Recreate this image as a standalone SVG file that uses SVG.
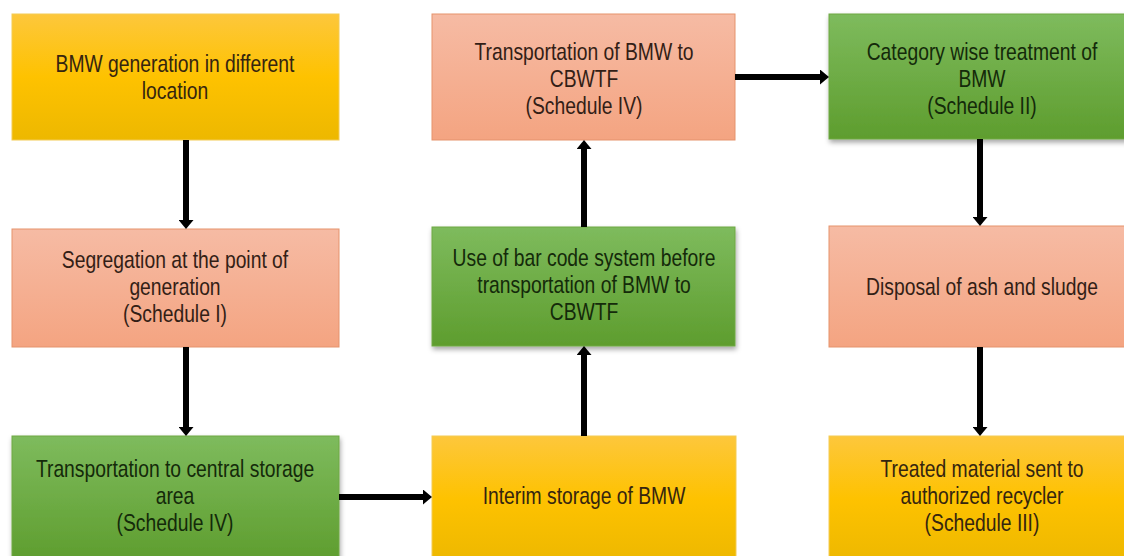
<svg xmlns="http://www.w3.org/2000/svg" width="1124" height="556" viewBox="0 0 1124 556">
<defs>
<linearGradient id="gy" x1="0" y1="0" x2="0" y2="1"><stop offset="0" stop-color="#FDC73C"/><stop offset="0.5" stop-color="#FEC200"/><stop offset="1" stop-color="#EDB800"/></linearGradient>
<linearGradient id="gs" x1="0" y1="0" x2="0" y2="1"><stop offset="0" stop-color="#F6BBA4"/><stop offset="1" stop-color="#F4A481"/></linearGradient>
<linearGradient id="gg" x1="0" y1="0" x2="0" y2="1"><stop offset="0" stop-color="#7EBB5D"/><stop offset="1" stop-color="#5E9D2E"/></linearGradient>
<filter id="sh" x="-5%" y="-5%" width="115%" height="125%"><feDropShadow dx="1" dy="3" stdDeviation="2.5" flood-color="#000" flood-opacity="0.35"/></filter>
<marker id="ah" markerUnits="userSpaceOnUse" markerWidth="10" markerHeight="15" viewBox="0 0 10 15" refX="1" refY="7.5" orient="auto"><path d="M0,0 L9,7.5 L0,15 Z" fill="#000"/></marker>
</defs>
<style>
.y{fill:url(#gy);stroke:#F3CB55;stroke-width:1}
.s{fill:url(#gs);stroke:#E5936C;stroke-width:1}
.g{fill:url(#gg);stroke:#6EA845;stroke-width:1;filter:url(#sh)}
text{font-family:"Liberation Sans",Arial,sans-serif;font-size:24px;text-anchor:middle}
.ty{fill:#35250F}
.ts{fill:#331E16}
.tg{fill:#142A0A}
.c{stroke:#000;stroke-width:6;fill:none;marker-end:url(#ah)}
</style>
<rect width="1124" height="556" fill="#fff"/>
<g id="n1"><rect class="y" x="12" y="14" width="327" height="126"/><g transform="translate(175,0) scale(0.805,1)"><text class="ty" x="0" y="72">BMW generation in different</text><text class="ty" x="0" y="99">location</text></g></g>
<g id="n2"><rect class="s" x="12" y="229" width="327" height="118"/><g transform="translate(175,0) scale(0.805,1)"><text class="ts" x="0" y="268">Segregation at the point of</text><text class="ts" x="0" y="295">generation</text><text class="ts" x="0" y="322">(Schedule I)</text></g></g>
<g id="n3"><rect class="g" x="12" y="436" width="327" height="126"/><g transform="translate(175,0) scale(0.805,1)"><text class="tg" x="0" y="477">Transportation to central storage</text><text class="tg" x="0" y="504">area</text><text class="tg" x="0" y="531">(Schedule IV)</text></g></g>
<g id="n4"><rect class="y" x="432" y="436" width="304" height="126"/><g transform="translate(584,0) scale(0.805,1)"><text class="ty" x="0" y="504">Interim storage of BMW</text></g></g>
<g id="n5"><rect class="g" x="432" y="227" width="303" height="119"/><g transform="translate(584,0) scale(0.805,1)"><text class="tg" x="0" y="266">Use of bar code system before</text><text class="tg" x="0" y="293">transportation of BMW to</text><text class="tg" x="0" y="320">CBWTF</text></g></g>
<g id="n6"><rect class="s" x="432" y="14" width="303" height="126"/><g transform="translate(584,0) scale(0.805,1)"><text class="ts" x="0" y="60">Transportation of BMW to</text><text class="ts" x="0" y="87">CBWTF</text><text class="ts" x="0" y="114">(Schedule IV)</text></g></g>
<g id="n7"><rect class="g" x="829" y="14" width="306" height="125"/><g transform="translate(982,0) scale(0.805,1)"><text class="tg" x="0" y="60">Category wise treatment of</text><text class="tg" x="0" y="87">BMW</text><text class="tg" x="0" y="114">(Schedule II)</text></g></g>
<g id="n8"><rect class="s" x="829" y="226" width="306" height="121"/><g transform="translate(982,0) scale(0.805,1)"><text class="ts" x="0" y="295">Disposal of ash and sludge</text></g></g>
<g id="n9"><rect class="y" x="829" y="436" width="306" height="126"/><g transform="translate(982,0) scale(0.805,1)"><text class="ty" x="0" y="477">Treated material sent to</text><text class="ty" x="0" y="504">authorized recycler</text><text class="ty" x="0" y="531">(Schedule III)</text></g></g>
<g id="connectors">
<line class="c" x1="186" y1="140" x2="186" y2="221"/>
<line class="c" x1="186" y1="347" x2="186" y2="428"/>
<line class="c" x1="339" y1="497" x2="424" y2="497"/>
<line class="c" x1="584" y1="436" x2="584" y2="354"/>
<line class="c" x1="584" y1="227" x2="584" y2="148"/>
<line class="c" x1="735" y1="77" x2="821" y2="77"/>
<line class="c" x1="980" y1="139" x2="980" y2="218"/>
<line class="c" x1="980" y1="347" x2="980" y2="428"/>
</g>
</svg>
